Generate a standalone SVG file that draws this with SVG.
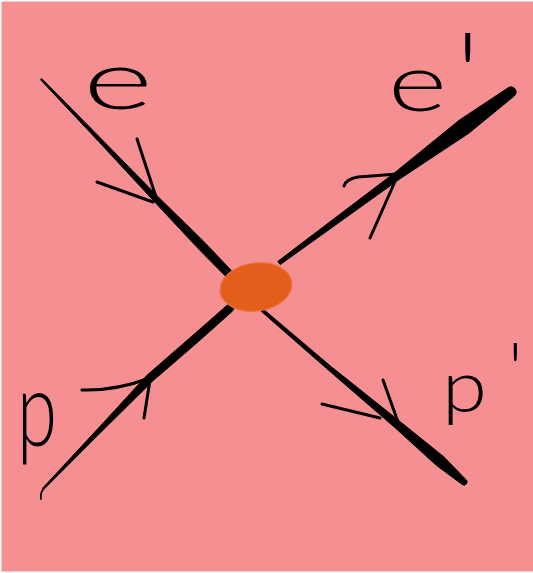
<svg xmlns="http://www.w3.org/2000/svg" width="533" height="573" viewBox="0 0 533 573">
<style>
.line{fill:#000;stroke:#000;stroke-width:1;stroke-linejoin:round}
.arm{fill:none;stroke:#000;stroke-width:3;stroke-linecap:round;stroke-linejoin:round}
.lbl{font-family:Lato,"Open Sans","DejaVu Sans",sans-serif;font-weight:300;fill:#000}
</style>
<rect x="0" y="0" width="533" height="573" fill="#ffffff"/>
<rect x="1.5" y="1.5" width="531.5" height="570" fill="#F58F92"/>
<g id="connectors">
<path class="line" d="M40.4,79.6 L98.7,141.5 L154.8,202.1 L196.8,247.1 L227.1,277.8 A4,4 0 0 0 232.9,272.2 L203.2,240.9 L159.2,197.9 L101.3,138.9 L41.6,78.4 Z"/>
<path class="arm" d="M137,139 L157,200 M97,182 L153,202"/>
<path class="line" d="M280.2,264.6 L399.4,179.2 L469.0,133.1 L514.2,96.0 A5,5 0 0 0 507.8,88.0 L459.4,120.1 L394.6,172.8 L277.8,261.4 Z"/>
<path class="arm" d="M344,186 Q346,179 358,177 L397,174 M370,238 L397,177"/>
<path class="line" d="M43.6,489.6 L97.6,435.5 L152.8,380.9 L198,341.9 L232.6,311 A4,4 0 0 0 227.4,305 L192,336.1 L147.2,375.1 L94.4,432.5 L42.4,488.4 Z"/>
<path class="arm" style="stroke-width:1.8" d="M41,499 Q40,493 43.5,489"/>
<path class="arm" d="M82,390 Q115,391 150,378 M144,418 L150,380"/>
<path class="line" d="M261.0,311.1 L328.6,370.2 L395.4,428.0 L436.3,465.3 L462.0,484.3 A3,3 0 0 0 466.0,479.7 L443.7,456.7 L400.6,422.0 L331.4,366.8 L263.0,308.9 Z"/>
<path class="arm" d="M383,380 L398,422 M322,404 L380,418"/>
</g>
<g id="vertex">
<ellipse cx="256" cy="287" rx="36" ry="24" transform="rotate(-8 256 287)" fill="#E25E1A" stroke="#E8743C" stroke-width="1.2"/>
</g>
<g id="label-e">
<text class="lbl" x="83" y="109" font-size="82" textLength="70" lengthAdjust="spacingAndGlyphs">e</text>
</g>
<g id="label-e-prime">
<text class="lbl" x="388" y="111" font-size="80" textLength="59" lengthAdjust="spacingAndGlyphs">e</text>
<text class="lbl" x="456" y="118" font-size="120">'</text>
</g>
<g id="label-p">
<text class="lbl" x="17" y="446" font-size="104" textLength="40" lengthAdjust="spacingAndGlyphs">p</text>
</g>
<g id="label-p-prime">
<text class="lbl" x="442" y="412" font-size="72" textLength="45" lengthAdjust="spacingAndGlyphs">p</text>
<text class="lbl" x="508" y="396" font-size="75">'</text>
</g>
</svg>
